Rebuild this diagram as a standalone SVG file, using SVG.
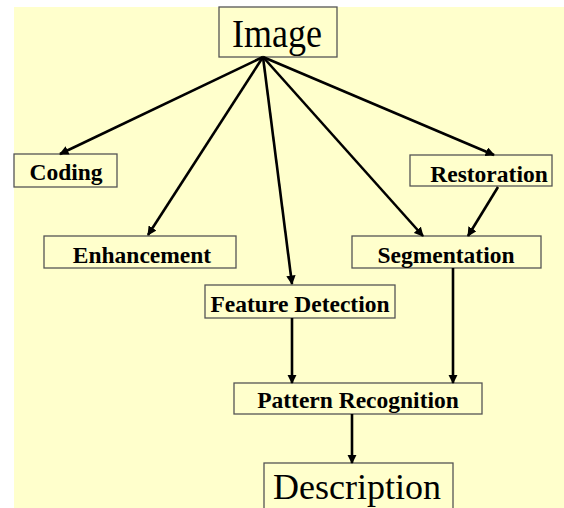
<svg xmlns="http://www.w3.org/2000/svg" width="564" height="508" viewBox="0 0 564 508">
<style>
.box{fill:#FFFFCC;stroke:#555;stroke-width:1.3}
.lbl{font-family:"Liberation Serif","Times New Roman",serif;font-weight:bold;font-size:23.5px;fill:#000;text-anchor:middle}
.big{font-family:"Liberation Serif","Times New Roman",serif;font-size:36px;fill:#000;text-anchor:middle}
.con line{stroke:#000;stroke-width:2.6;marker-end:url(#ah)}
</style>
<defs>
<marker id="ah" viewBox="0 0 10 10" refX="9" refY="5" markerWidth="3.6" markerHeight="3.6" orient="auto">
<path d="M0,0 L10,5 L0,10 z" fill="#000"/>
</marker>
</defs>
<rect x="0" y="0" width="564" height="508" fill="#FFFFFF"/>
<rect x="14" y="7" width="550" height="501" fill="#FFFFCC"/>
<g id="image"><rect class="box" x="219" y="7" width="118" height="50"/><text class="big" x="277" y="47" transform="translate(0,-4.7) scale(1,1.1)">Image</text></g>
<g id="coding"><rect class="box" x="14" y="154" width="103" height="33"/><text class="lbl" x="66" y="180">Coding</text></g>
<g id="enhancement"><rect class="box" x="44" y="236" width="192" height="32"/><text class="lbl" x="142" y="263">Enhancement</text></g>
<g id="restoration"><rect class="box" x="410" y="155" width="142" height="31"/><text class="lbl" x="489" y="182">Restoration</text></g>
<g id="segmentation"><rect class="box" x="352" y="236" width="189" height="32"/><text class="lbl" x="446" y="263">Segmentation</text></g>
<g id="feature"><rect class="box" x="205" y="285" width="190" height="33"/><text class="lbl" x="300" y="312">Feature Detection</text></g>
<g id="pattern"><rect class="box" x="234" y="383" width="248" height="31"/><text class="lbl" x="358" y="408">Pattern Recognition</text></g>
<g id="description"><rect class="box" x="264" y="463" width="189" height="50"/><text class="big" x="357" y="499" font-size="35">Description</text></g>
<g class="con" id="connectors">
<line x1="263" y1="57" x2="60" y2="154"/>
<line x1="263" y1="57" x2="148" y2="235"/>
<line x1="263" y1="57" x2="292" y2="284"/>
<line x1="263" y1="57" x2="423" y2="236"/>
<line x1="263" y1="57" x2="494" y2="155"/>
<line x1="498" y1="187" x2="468" y2="236"/>
<line x1="292" y1="318" x2="292" y2="383"/>
<line x1="453" y1="268" x2="453" y2="383"/>
<line x1="352" y1="414" x2="352" y2="463"/>
</g>
</svg>
